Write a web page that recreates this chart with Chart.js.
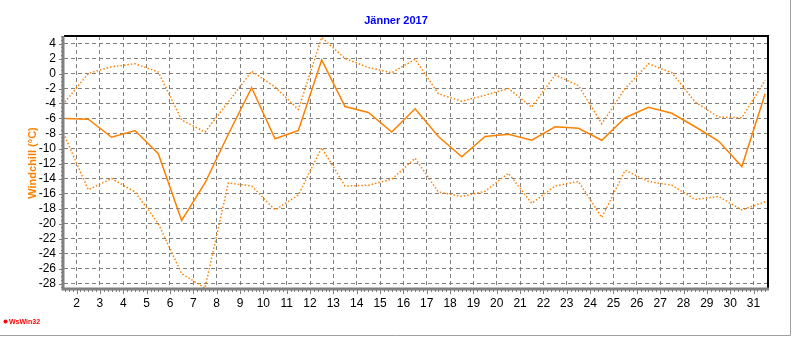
<!DOCTYPE html>
<html>
<head>
<meta charset="utf-8">
<script src="https://cdn.jsdelivr.net/npm/chart.js@4.4.1/dist/chart.umd.min.js"></script>
<style>
    html, body { margin: 0; padding: 0; background: #fff; }
    #wrap { width: 792px; height: 337px; position: relative; }
</style>
</head>
<body>
<div id="wrap"><canvas id="chartWindchill"></canvas></div>
<script>
// Tage im Jänner (Werte liegen jeweils in der Tagesmitte)
const tage = [1, 2, 3, 4, 5, 6, 7, 8, 9, 10, 11, 12, 13, 14, 15, 16, 17, 18, 19, 20, 21, 22, 23, 24, 25, 26, 27, 28, 29, 30, 31];
const xBeschriftung = [2, 3, 4, 5, 6, 7, 8, 9, 10, 11, 12, 13, 14, 15, 16, 17, 18, 19, 20, 21, 22, 23, 24, 25, 26, 27, 28, 29, 30, 31];
const yBeschriftung = [4, 2, 0, -2, -4, -6, -8, -10, -12, -14, -16, -18, -20, -22, -24, -26, -28];

// Windchill in °C
const windchillMax = [-3.8, 0.0, 0.9, 1.3, 0.2, -6.2, -7.8, -3.8, 0.3, -1.8, -4.8, 4.8, 2.0, 0.8, 0.1, 1.9, -2.7, -3.7, -2.9, -2.0, -4.5, -0.2, -1.6, -6.7, -2.0, 1.3, 0.1, -3.8, -5.8, -5.9, -0.9];
const windchillMittel = [-6.0, -6.1, -8.5, -7.6, -10.7, -19.6, -14.6, -8.1, -1.9, -8.7, -7.6, 1.8, -4.4, -5.2, -7.8, -4.7, -8.4, -11.1, -8.4, -8.1, -8.9, -7.1, -7.3, -8.9, -5.9, -4.5, -5.3, -7.1, -9.0, -12.4, -2.7];
const windchillMin = [-8.4, -15.5, -14.0, -15.8, -20.0, -26.7, -28.6, -14.6, -15.0, -18.2, -16.2, -9.9, -15.0, -14.9, -14.1, -11.3, -15.8, -16.4, -15.7, -13.3, -17.3, -15.0, -14.4, -19.2, -12.9, -14.4, -14.9, -16.8, -16.4, -18.2, -17.1];

const ORANGE = '#ff8000';

function punkte(werte) {
    return werte.map((v, i) => ({ x: tage[i] + 0.5, y: v }));
}

// Rahmen, Achsen, Striche und Texte
const rahmenPlugin = {
    id: 'rahmen',
    afterDraw(chart) {
        const ctx = chart.ctx;
        const a = chart.chartArea;
        const xs = chart.scales.x;
        const ys = chart.scales.y;
        ctx.save();

        // kleine Striche links
        ctx.strokeStyle = '#808080';
        ctx.lineWidth = 1;
        for (let v = -28.5; v <= 5; v += 0.5) {
            const y = Math.round(ys.getPixelForValue(v)) + 0.5;
            if (y < a.top || y > a.bottom) continue;
            const lang = Number.isInteger(v / 2) ? 4 : 2;
            ctx.beginPath();
            ctx.moveTo(a.left - 1 - lang, y);
            ctx.lineTo(a.left, y);
            ctx.stroke();
        }
        // kleine Striche unten
        for (let v = 1.5; v <= 31.7; v += 1 / 6) {
            const x = Math.round(xs.getPixelForValue(v)) + 0.5;
            if (x < a.left || x > a.right) continue;
            const lang = Math.abs(v - Math.round(v)) < 0.01 ? 5 : 3;
            ctx.beginPath();
            ctx.moveTo(x, a.bottom);
            ctx.lineTo(x, a.bottom + 1 + lang);
            ctx.stroke();
        }

        // Achsen
        ctx.strokeStyle = '#000';
        ctx.lineWidth = 2;
        ctx.beginPath();
        ctx.moveTo(a.left, a.top);
        ctx.lineTo(a.right, a.top);
        ctx.lineTo(a.right, a.bottom);
        ctx.stroke();

        ctx.strokeStyle = '#808080';
        ctx.lineWidth = 3;
        ctx.beginPath();
        ctx.moveTo(a.left - 1, a.top);
        ctx.lineTo(a.left - 1, a.bottom + 1);
        ctx.lineTo(a.right + 1, a.bottom + 1);
        ctx.stroke();

        // äußerer Rahmen rechts/unten
        ctx.strokeStyle = '#a0a0a0';
        ctx.lineWidth = 1;
        ctx.beginPath();
        ctx.moveTo(790.5, 0);
        ctx.lineTo(790.5, 335.5);
        ctx.lineTo(0, 335.5);
        ctx.stroke();

        // Titel
        ctx.fillStyle = '#0000ff';
        ctx.font = 'bold 11px "Liberation Sans", Arial, sans-serif';
        ctx.textAlign = 'center';
        ctx.textBaseline = 'middle';
        ctx.fillText('Jänner 2017', 396, 21);

        // Achsentitel
        ctx.save();
        ctx.translate(33, 163);
        ctx.rotate(-Math.PI / 2);
        ctx.fillStyle = ORANGE;
        ctx.font = 'bold 11px "Liberation Sans", Arial, sans-serif';
        ctx.fillText('Windchill (°C)', 0, 0);
        ctx.restore();

        // Logo
        ctx.fillStyle = '#ff0000';
        ctx.beginPath();
        ctx.arc(5.5, 321.5, 2, 0, Math.PI * 2);
        ctx.fill();
        ctx.font = 'bold 7px "Liberation Sans", Arial, sans-serif';
        ctx.textAlign = 'left';
        ctx.fillText('WsWin32', 9, 322);

        ctx.restore();
    }
};

const ctx = document.getElementById('chartWindchill').getContext('2d');
new Chart(ctx, {
    type: 'line',
    data: {
        datasets: [
            {
                label: 'Max',
                data: punkte(windchillMax),
                borderColor: ORANGE,
                borderWidth: 1.5,
                borderDash: [1.5, 2],
                pointRadius: 0,
                tension: 0
            },
            {
                label: 'Mittel',
                data: punkte(windchillMittel),
                borderColor: ORANGE,
                borderWidth: 1.5,
                pointRadius: 0,
                tension: 0
            },
            {
                label: 'Min',
                data: punkte(windchillMin),
                borderColor: ORANGE,
                borderWidth: 1.5,
                borderDash: [1.5, 2],
                pointRadius: 0,
                tension: 0
            }
        ]
    },
    options: {
        responsive: true,
        maintainAspectRatio: false,
        animation: false,
        layout: { padding: { left: 0, right: 24, top: 36, bottom: 24 } },
        plugins: {
            legend: { display: false },
            title: { display: false },
            tooltip: { enabled: false }
        },
        scales: {
            x: {
                type: 'linear',
                min: 1.46,
                max: 31.62,
                afterBuildTicks: (s) => { s.ticks = xBeschriftung.map(v => ({ value: v })); },
                afterFit: (s) => { s.height = 25; },
                grid: { color: '#808080', lineWidth: 1, drawTicks: false },
                border: { display: false, dash: [4, 3] },
                ticks: {
                    color: '#000',
                    padding: 8,
                    maxRotation: 0,
                    autoSkip: false,
                    font: { family: '"Liberation Sans", Arial, sans-serif', size: 12 }
                }
            },
            y: {
                min: -28.6,
                max: 5,
                afterBuildTicks: (s) => { s.ticks = yBeschriftung.map(v => ({ value: v })); },
                afterFit: (s) => { s.width = 64; },
                grid: { color: '#808080', lineWidth: 1, drawTicks: false },
                border: { display: false, dash: [4, 3] },
                ticks: {
                    color: '#000',
                    padding: 8,
                    autoSkip: false,
                    font: { family: '"Liberation Sans", Arial, sans-serif', size: 12 }
                }
            }
        }
    },
    plugins: [rahmenPlugin]
});
</script>
</body>
</html>
